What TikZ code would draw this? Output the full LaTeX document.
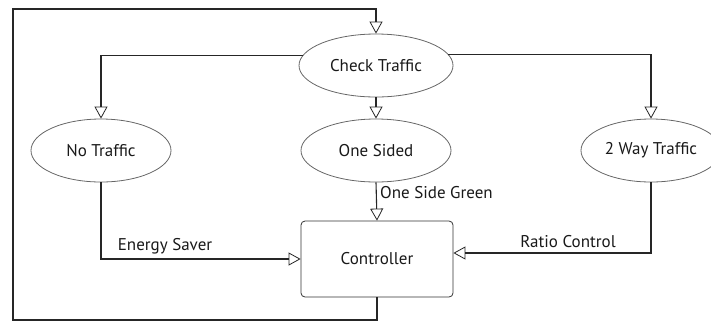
\documentclass[tikz,border=0pt]{standalone}
\usepackage{fontspec}
\setmainfont{PT Sans}
\usetikzlibrary{arrows.meta,calc,shapes.geometric}
\begin{document}
\begin{tikzpicture}[x=1pt,y=-1pt,
  every node/.style={font=\fontsize{17}{19}\selectfont, text=black!90},
  state/.style={ellipse, draw=black!60, line width=0.8pt, minimum height=63pt, inner sep=0pt},
  ctrlbox/.style={rectangle, rounded corners=4pt, draw=black!80, line width=0.8pt,
    minimum width=152pt, minimum height=76pt},
  flow/.style={draw=black!85, line width=1.1pt,
    -{Triangle[open, length=12pt, width=13pt, line width=0.8pt]}},
  tag/.style={inner sep=1pt}]
\useasboundingbox (0,0) rectangle (711,322);

% states
\node[state, minimum width=154pt] (check) at (376,65.5) {Check Traffic};
\node[state, minimum width=140pt] (none) at (101,150.5) {No Traffic};
\node[state, minimum width=150pt] (one) at (376,150.5) {One Sided};
\node[state, minimum width=140pt] (two) at (651,150.5) {2 Way Traffic};
\node[ctrlbox] (ctrl) at (377,259) {Controller};

% feedback loop from the controller back to the check
\coordinate (lb) at (13,320);
\coordinate (lt) at (13,9);
\draw[flow] (ctrl.south) |- (lb) -- (lt) -| (check.north);

% branches out of the check
\draw[flow] (check.172) -| (none.north);
\draw[flow] (check.south) -- (one.north);
\draw[flow] (check.9) -| (two.north);

% inputs to the controller
\draw[flow] (none.south) |- (ctrl.west);
\draw[flow] (one.south) -- (ctrl.north);
\draw[flow] (two.south) |- ($(ctrl.east)+(0,-6)$);

% labels
\node[tag] (es) at (165,246) {Energy Saver};
\node[tag, anchor=west] (osg) at (379,193) {One Side Green};
\node[tag] (rc) at (568,242) {Ratio Control};
\end{tikzpicture}
\end{document}
